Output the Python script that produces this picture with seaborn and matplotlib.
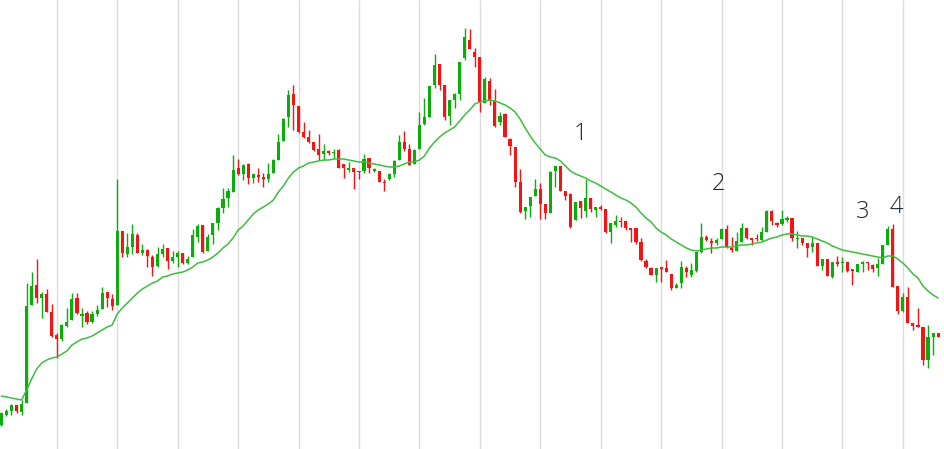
import numpy as np
import pandas as pd
import matplotlib
matplotlib.use('Agg')
import matplotlib.pyplot as plt
import seaborn as sns

# candle data (arbitrary price units)
opens = [24, 34, 38, 44, 37, 46, 144, 164, 151, 155,
         137, 114, 110, 123, 129, 151, 133, 136, 127, 135,
         140, 157, 150, 144, 218, 195, 202, 214, 196, 199,
         192, 183, 195, 201, 188, 192, 196, 186, 192, 212,
         224, 198, 214, 226, 241, 251, 257, 281, 275, 285,
         271, 274, 272, 270, 276, 289, 308, 332, 355, 343,
         317, 312, 307, 300, 295, 298, 296, 299, 285, 279,
         281, 278, 278, 291, 278, 278, 267, 270, 275, 289,
         307, 300, 285, 300, 325, 332, 364, 385, 364, 333,
         349, 355, 391, 409, 397, 392, 346, 368, 348, 327,
         335, 310, 302, 267, 238, 243, 253, 260, 245, 236,
         278, 283, 258, 255, 229, 248, 238, 251, 239, 242,
         240, 217, 224, 228, 228, 221, 221, 207, 188, 181,
         174, 182, 181, 175, 161, 166, 181, 174, 178, 197,
         212, 208, 206, 210, 220, 201, 198, 207, 221, 211,
         211, 209, 217, 238, 226, 225, 229, 231, 210, 211,
         206, 202, 206, 183, 190, 172, 187, 186, 187, 180,
         177, 185, 187, 184, 181, 185, 204, 220, 163, 138,
         152, 126, 124, 122, 89, 112, 116]
closes = [36, 38, 44, 38, 45, 143, 163, 151, 155, 137,
          113, 110, 124, 127, 150, 136, 135, 127, 135, 139,
          156, 151, 143, 218, 196, 202, 215, 196, 199, 193,
          182, 195, 200, 188, 192, 196, 186, 190, 214, 223,
          197, 212, 226, 241, 250, 258, 279, 275, 284, 271,
          275, 272, 270, 275, 289, 307, 330, 354, 344, 317,
          312, 307, 299, 294, 298, 296, 297, 281, 281, 281,
          277, 277, 290, 281, 280, 267, 266, 275, 288, 307,
          300, 284, 299, 324, 332, 363, 384, 364, 332, 349,
          355, 387, 412, 400, 392, 346, 370, 348, 323, 333,
          312, 303, 267, 237, 242, 252, 260, 245, 236, 277,
          283, 258, 253, 222, 247, 241, 251, 240, 242, 240,
          217, 226, 228, 227, 221, 219, 207, 189, 182, 174,
          181, 180, 177, 161, 164, 182, 177, 179, 197, 212,
          209, 206, 209, 220, 202, 199, 208, 221, 211, 209,
          210, 217, 238, 228, 224, 230, 231, 211, 211, 206,
          201, 206, 183, 190, 173, 187, 185, 187, 178, 178,
          185, 187, 186, 180, 185, 204, 220, 162, 138, 152,
          126, 123, 122, 89, 112, 116, 112]
highs = [37, 40, 45, 44, 49, 166, 177, 190, 157, 160,
         145, 116, 125, 141, 156, 156, 141, 138, 138, 144,
         162, 157, 155, 270, 218, 216, 225, 216, 205, 200,
         194, 202, 205, 201, 198, 198, 196, 193, 220, 225,
         224, 215, 226, 242, 261, 261, 294, 290, 285, 286,
         276, 281, 276, 286, 290, 315, 331, 359, 364, 343,
         327, 319, 307, 315, 305, 299, 300, 300, 285, 287,
         281, 278, 295, 291, 281, 278, 270, 276, 289, 314,
         318, 305, 300, 337, 351, 363, 395, 385, 364, 349,
         356, 387, 421, 420, 401, 392, 372, 371, 360, 337,
         336, 311, 302, 280, 242, 252, 270, 266, 245, 278,
         283, 283, 258, 256, 247, 248, 270, 251, 242, 244,
         240, 226, 234, 232, 228, 221, 221, 211, 190, 182,
         181, 182, 189, 175, 166, 188, 183, 186, 197, 226,
         214, 211, 211, 221, 224, 212, 217, 226, 221, 211,
         215, 222, 239, 239, 227, 239, 233, 231, 218, 211,
         206, 212, 206, 190, 190, 187, 193, 192, 187, 180,
         185, 188, 187, 185, 191, 204, 223, 225, 163, 156,
         162, 126, 141, 122, 124, 116, 116]
lows = [23, 33, 34, 36, 34, 46, 144, 146, 131, 137,
        112, 91, 108, 122, 129, 135, 122, 125, 126, 133,
        140, 142, 139, 144, 192, 192, 195, 196, 194, 182,
        173, 182, 192, 180, 186, 182, 185, 185, 192, 207,
        196, 198, 205, 219, 236, 242, 257, 274, 269, 265,
        266, 267, 262, 267, 276, 289, 308, 322, 319, 316,
        311, 306, 298, 289, 289, 294, 291, 281, 271, 277,
        260, 270, 276, 276, 277, 267, 258, 269, 272, 289,
        298, 284, 285, 300, 324, 332, 361, 359, 329, 324,
        341, 349, 389, 400, 382, 337, 346, 344, 322, 324,
        312, 294, 262, 236, 230, 232, 253, 230, 230, 236,
        262, 258, 249, 221, 229, 231, 232, 237, 232, 239,
        216, 206, 222, 222, 219, 207, 205, 188, 181, 174,
        167, 167, 177, 159, 161, 161, 172, 172, 177, 196,
        208, 196, 204, 210, 201, 197, 198, 207, 210, 204,
        208, 208, 217, 224, 222, 224, 227, 208, 201, 204,
        192, 197, 183, 179, 173, 171, 183, 177, 177, 164,
        177, 177, 179, 177, 173, 185, 204, 162, 135, 137,
        126, 119, 122, 84, 81, 94, 112]
# moving average line as drawn in the picture
ma = [53, 52, 51, 50, 49, 59, 70, 80, 86, 89,
      91, 92, 95, 98, 104, 107, 110, 111, 113, 116,
      119, 122, 124, 135, 141, 146, 151, 156, 160, 163,
      166, 168, 172, 173, 175, 176, 177, 179, 182, 186,
      187, 189, 192, 196, 201, 205, 211, 219, 223, 229,
      235, 239, 242, 245, 249, 257, 263, 271, 277, 281,
      283, 286, 287, 288, 289, 289, 290, 290, 290, 289,
      288, 287, 287, 286, 285, 284, 283, 282, 282, 283,
      285, 287, 287, 289, 293, 301, 307, 312, 316, 319,
      322, 328, 334, 339, 345, 347, 348, 349, 348, 346,
      344, 341, 337, 330, 321, 313, 306, 300, 294, 292,
      291, 288, 283, 278, 275, 273, 271, 268, 266, 263,
      260, 257, 254, 251, 249, 246, 242, 236, 231, 227,
      221, 217, 214, 210, 207, 204, 201, 199, 198, 199,
      200, 201, 201, 202, 202, 202, 203, 204, 204, 205,
      206, 207, 209, 211, 212, 214, 215, 215, 214, 213,
      213, 212, 210, 208, 206, 203, 201, 199, 198, 197,
      196, 195, 194, 193, 192, 191, 193, 193, 190, 186,
      181, 175, 171, 163, 158, 154, 151]

# numbered marks (candle index, price level of the baseline)
label_text = ['1', '2', '3', '4']
label_idx = [115.0, 142.3, 171.0, 177.8]
label_level = [309, 259, 231, 236]

df = pd.DataFrame({'open': opens, 'high': highs, 'low': lows,
                   'close': closes, 'ma': ma})
df['idx'] = np.arange(len(df))
up = df['close'] >= df['open']
colors = np.where(up, '#0aad0a', '#f41414')
body_bottom = df[['open', 'close']].min(axis=1)
body_height = (df['close'] - df['open']).abs().clip(lower=1.3)

sns.set_theme(style='white')

fig = plt.figure(figsize=(9.45, 4.49), dpi=100)
ax = fig.add_axes([0, 0, 1, 1])

# wicks + bodies
ax.vlines(df['idx'], df['low'], df['high'], colors=colors, lw=1, zorder=2)
ax.bar(df['idx'], body_height, bottom=body_bottom, width=0.62,
       color=colors, linewidth=0, zorder=3)

sns.lineplot(x=df['idx'], y=df['ma'], color='#3dbd3d', lw=1.1, ax=ax, zorder=4)

for t, xi, yl in zip(label_text, label_idx, label_level):
    ax.text(xi, yl, t, ha='center', va='baseline', fontsize=17,
            family=['Open Sans', 'DejaVu Sans'], fontweight='light',
            color='#1b2430', zorder=5)

ax.set_xlim(-0.28, 187.37)
ax.set_ylim(0, 449)
ax.set_xticks(np.arange(11, len(df), 12))
ax.set_yticks([])
ax.grid(axis='x', color='#dcdcdc', lw=1)
ax.grid(axis='y', visible=False)
ax.tick_params(length=0, labelbottom=False, labelleft=False)
ax.set_xlabel('')
ax.set_ylabel('')
for s in ax.spines.values():
    s.set_visible(False)

fig.savefig('out.png', dpi=100)
